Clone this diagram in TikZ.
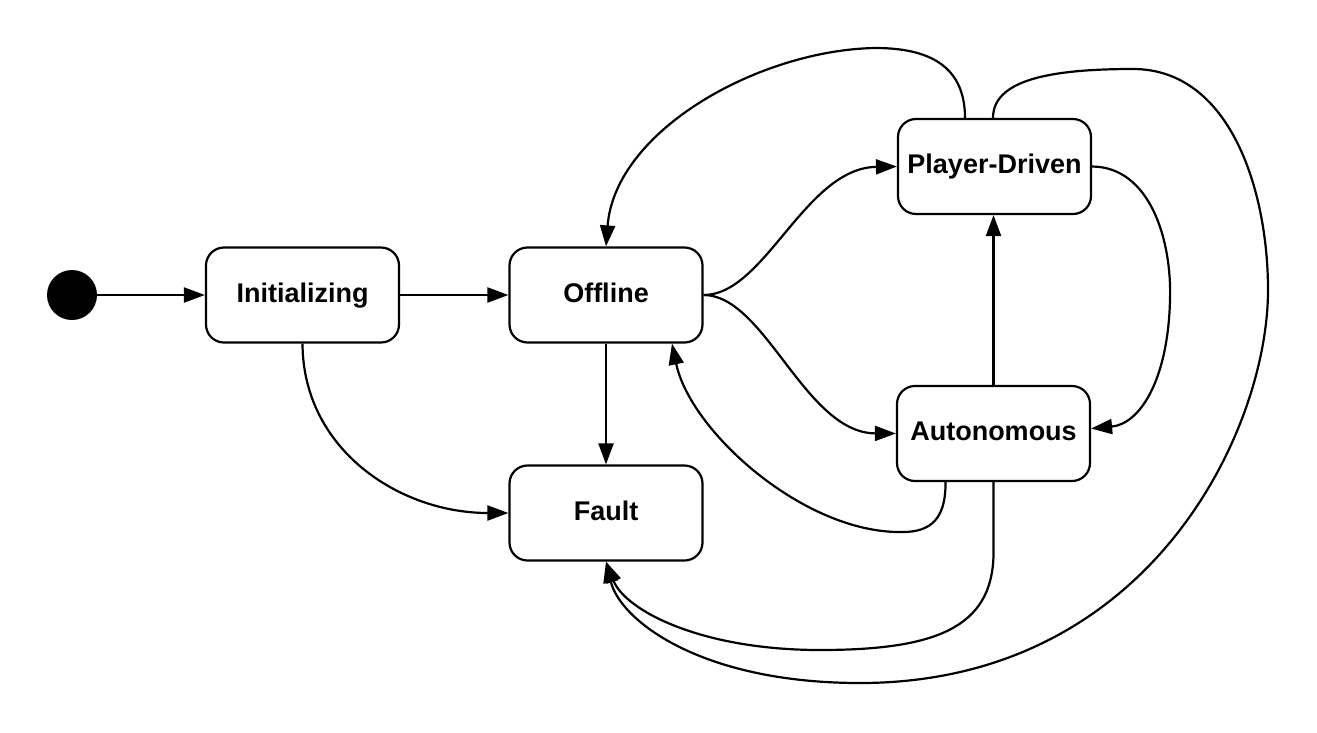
\documentclass[tikz,border=0pt]{standalone}
\usepackage{fontspec}
\setmainfont{Liberation Sans}
\usetikzlibrary{arrows.meta,calc}
\begin{document}
\begin{tikzpicture}[x=1pt,y=-1pt,
  state/.style={draw, line width=2.2pt, rounded corners=18pt, minimum width=193pt, minimum height=95pt,
    font=\fontsize{27}{31}\selectfont\bfseries, inner sep=0pt, text height=20pt, text depth=6pt},
  conn/.style={line width=2.2pt, -{Triangle[length=21pt,width=15pt]}},
  startdot/.style={circle, fill, minimum size=50pt, inner sep=0pt}
  ]
\useasboundingbox (0,0) rectangle (1317,732);
\node[startdot] (start) at (72,295) {};
\node[state] (init) at (302.5,295) {Initializing};
\node[state] (off) at (606,295) {Offline};
\node[state] (fault) at (606,513) {Fault};
\node[state] (pd) at (994.5,166.5) {Player-Driven};
\node[state] (auto) at (993.5,433.5) {Autonomous};

\draw[conn] (start) -- (init);
\draw[conn] (init) -- (off);
\draw[conn] (off) -- (fault);
\draw[conn] (init.south) .. controls (303,450) and (400,513) .. (fault.west);
\draw[conn] (off.east) .. controls (765,295) and (805,168) .. (pd.west);
\draw[conn] (off.east) .. controls (765,295) and (805,433) .. (auto.west);
\draw[conn] ([xshift=-48pt]auto.south) .. controls (946,525) and (925,533) .. (897,532)
  .. controls (800,530) and (690,430) .. ([xshift=66pt]off.south);
\draw[conn] (auto.north) -- (auto.north |- pd.south);
\draw[conn] (pd.east) .. controls (1150,167) and (1172,240) .. (1170,300)
  .. controls (1168,380) and (1140,424) .. ([yshift=5pt]auto.east);
\draw[conn] ([xshift=-29.5pt]pd.north) .. controls (965,60) and (920,48) .. (875,48)
  .. controls (760,50) and (615,130) .. (off.north);
\draw[conn] ([xshift=-1.5pt]pd.north) .. controls (993,80) and (1050,69) .. (1133,69)
  .. controls (1230,69) and (1268,190) .. (1268,290)
  .. controls (1268,430) and (1150,683) .. (860,683)
  .. controls (700,683) and (620,620) .. (fault.south);
\draw[conn] (auto.south) -- (993.5,555) .. controls (992,628) and (935,650) .. (820,650)
  .. controls (700,650) and (625,610) .. (fault.south);
\end{tikzpicture}
\end{document}
